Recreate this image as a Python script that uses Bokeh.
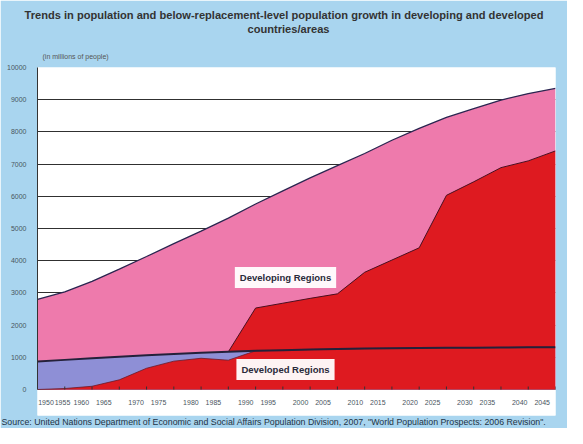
import numpy as np
from bokeh.plotting import figure
from bokeh.models import Range1d, FixedTicker, Label, Title
from bokeh.core.properties import value
from bokeh.embed import file_html
from bokeh.resources import INLINE

# ---- data (millions of people) ----
years = [1950, 1955, 1960, 1965, 1970, 1975, 1980, 1985, 1990, 1995,
         2000, 2005, 2010, 2015, 2020, 2025, 2030, 2035, 2040, 2045]
total_pop = [2800, 3030, 3360, 3740, 4130, 4530, 4920, 5320, 5760, 6170,
             6570, 6950, 7330, 7740, 8110, 8450, 8720, 8990, 9190, 9350]
developed_pop = [870, 920, 970, 1020, 1060, 1100, 1140, 1170, 1200, 1220,
                 1240, 1255, 1270, 1280, 1290, 1295, 1300, 1305, 1310, 1315]
developed_below_repl = [0, 30, 100, 300, 660, 880, 970, 910, 1200, 1220,
                        1240, 1255, 1270, 1280, 1290, 1295, 1300, 1305, 1310, 1315]
developing_below_repl = [0, 0, 0, 0, 0, 0, 0, 0, 1330, 1460,
                         1590, 1715, 2370, 2740, 3110, 4735, 5150, 5585, 5790, 6095]
y_ticks = [0, 1000, 2000, 3000, 4000, 5000, 6000, 7000, 8000, 9000, 10000]
year_labels = [str(y) for y in years]

title_lines = ["Trends in population and below-replacement-level population growth in developing and developed",
               "countries/areas"]
unit_text = "(in millions of people)"
source_text = ('Source: United Nations Department of Economic and Social Affairs Population Division, 2007, '
               '"World Population Prospects: 2006 Revision".')

# ---- styling ----
BG = "#a9d5ef"
PINK = "#ee7aac"
BLUE = "#8e8fd6"
RED = "#de1a20"
LINE = "#24213a"
TXT = "#333333"
LAB = "#4a5560"
FONT = "Liberation Sans"

X0, X1 = years[0], years[-1]
Y_TOP = 10000
FL, FR, FT, FB = 45, 563, 75, 397   # plot-area edges (page pixels)
STRIP_B = 423                        # bottom of white label strip (page pixels)
PX_PER_Y = (FB - FT) / Y_TOP


def px_x(ax):
    return X0 + (ax - FL) * (X1 - X0) / (FR - FL)


def px_y(ay):
    return (FB - ay) / PX_PER_Y


p = figure(width=567, height=428, output_backend="svg", toolbar_location=None,
           x_range=Range1d(X0, X1), y_range=Range1d(px_y(STRIP_B), Y_TOP),
           min_border_left=FL - 8, min_border_right=575 - FR, min_border_top=FT - 8,
           min_border_bottom=436 - STRIP_B)
p.background_fill_color = "white"
p.border_fill_color = BG
p.outline_line_color = None

tot = np.array(total_pop, float)
dev = np.array(developed_pop, float)
devb = np.array(developed_below_repl, float)
dvgb = np.array(developing_below_repl, float)

p.varea(x=years, y1=0, y2=tot, fill_color=PINK)
p.varea(x=years, y1=0, y2=dev, fill_color=BLUE)
p.varea(x=years, y1=0, y2=devb, fill_color=RED)
p.varea(x=years, y1=dev, y2=dev + dvgb, fill_color=RED)

start = 7
p.line(x=years[start:], y=(dev + dvgb)[start:], line_color="#4a1020", line_width=1)
p.line(x=years, y=devb, line_color="#6a1a2a", line_width=0.8)
p.line(x=years, y=dev, line_color=LINE, line_width=2)
p.line(x=years, y=tot, line_color="#2a2550", line_width=1.3)

# grid (only 0..10000)
p.xgrid.grid_line_color = None
p.ygrid.grid_line_color = "#303030"
p.ygrid.grid_line_width = 1
p.ygrid.ticker = FixedTicker(ticks=y_ticks)

# y axis
p.yaxis.ticker = FixedTicker(ticks=y_ticks)
p.yaxis.bounds = (0, Y_TOP)
p.yaxis.axis_line_color = "#333333"
p.yaxis.major_tick_line_color = None
p.yaxis.minor_tick_line_color = None
p.yaxis.major_label_text_font_size = "7px"
p.yaxis.major_label_text_color = LAB
p.yaxis.major_label_text_font = FONT
p.yaxis.major_label_standoff = 5

# x axis drawn inside the white strip
p.xaxis.visible = False
TICK_PX = 3
p.segment(x0=years, y0=[0] * len(years), x1=years, y1=[TICK_PX / PX_PER_Y] * len(years),
          line_color="#333333", line_width=1)
lab_px = []
for k in range(10):
    lab_px += [34 + 54.8 * k, 56.5 + 54.8 * k]
lab_px[0] = FL + 8.5
lab_px[1] = FL + 25
lab_x = [px_x(v) for v in lab_px]
p.text(x=lab_x, y=[px_y(410)] * len(years), text=year_labels, text_align="center",
       text_baseline="middle", text_font=value(FONT), text_font_size=value("7px"),
       text_color=LAB)

# titles (added from the frame outwards)
p.add_layout(Title(text=unit_text, align="left", offset=5, standoff=15,
                   text_font_size="7px", text_font_style="normal", text_color="#555555",
                   text_font=FONT), "above")
p.add_layout(Title(text=" ", align="left", standoff=0, text_font_size="7px",
                   text_font=FONT), "above")
p.add_layout(Title(text=title_lines[1], align="left", offset=255 - FL, standoff=0,
                   text_font_size="11.1px", text_font_style="bold", text_color=TXT,
                   text_font=FONT), "above")
p.add_layout(Title(text=title_lines[0], align="left", offset=32 - FL, standoff=0,
                   text_font_size="11.1px", text_font_style="bold", text_color=TXT,
                   text_font=FONT), "above")
p.add_layout(Title(text=source_text, align="left", vertical_align="middle", offset=9 - FL,
                   standoff=0, text_font_size="8.8px", text_font_style="normal",
                   text_color="#223344", text_font=FONT), "below")

for txt, ay in [("Developing Regions", 285), ("Developed Regions", 377)]:
    p.add_layout(Label(x=px_x(293), y=px_y(ay), text=txt, text_align="center",
                       text_baseline="middle", text_font_size="9.5px", text_font_style="bold",
                       text_color="#2a2a3a", text_font=FONT, background_fill_color="white",
                       background_fill_alpha=0.95, padding=5))

open("out.html", "w").write(file_html(p, INLINE))
